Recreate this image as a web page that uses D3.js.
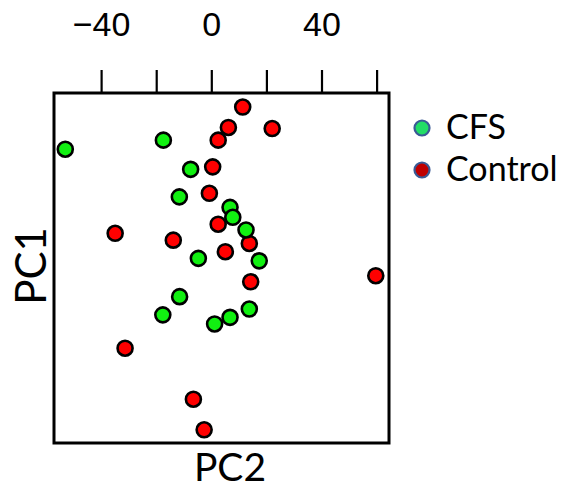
<!DOCTYPE html>
<html>
<head>
<meta charset="utf-8">
<script src="https://cdn.jsdelivr.net/npm/d3@7"></script>
<style>
  body { margin: 0; background: #fff; }
  text { font-family: Lato, "Open Sans", sans-serif; fill: #000; }
</style>
</head>
<body>
<div id="chart"></div>
<script>
// PCA scores (PC2 on x, PC1 on y)
var cfsPC2 = [-17.4, -53.0, -7.5, -11.6, 6.8, 7.8, 12.6, -4.7, 17.4, -11.5, -17.6, 13.8, 6.8, 1.2];
var cfsPC1 = [46.4, 43.1, 35.8, 25.8, 22.0, 18.4, 13.8, 3.5, 2.6, -10.4, -17.0, -14.9, -17.9, -20.3];
var controlPC2 = [11.4, 6.2, 22.1, 2.5, 0.5, -0.7, 2.5, -34.9, -13.8, 13.8, 5.1, 59.7, 14.3, -31.3, -6.5, -2.6];
var controlPC1 = [58.4, 51.0, 50.6, 46.4, 36.7, 27.1, 15.9, 12.6, 10.1, 8.9, 5.9, -2.8, -5.0, -29.1, -47.6, -58.7];
var xTicks = [-40, -20, 0, 20, 40, 60];
var xTickLabels = [-40, 0, 40];
var groups = ["CFS", "Control"];

var width = 565;
var height = 491;

var svg = d3.select("#chart")
  .append("svg")
    .attr("width", width)
    .attr("height", height)

// plot box (note: "top" is reserved on window, so use other names)
var boxL = 54, boxR = 389, boxT = 93, boxB = 443;

var x = d3.scaleLinear()
  .domain([-57.1, 64.5])
  .range([boxL, boxR]);

var y = d3.scaleLinear()
  .domain([-63.5, 63.5])
  .range([boxB, boxT]);

// top axis: ticks every 20, labels only every 40
var axis = d3.axisTop(x)
  .tickValues(xTicks)
  .tickSize(23)
  .tickPadding(34)
  .tickFormat(function(d) { return xTickLabels.indexOf(d) >= 0 ? d3.format("d")(d) : ""; });

var gx = svg.append("g")
  .attr("transform", "translate(0," + boxT + ")")
  .call(axis);
gx.select(".domain").remove();
gx.selectAll(".tick line").attr("stroke", "#000").attr("stroke-width", 2.2);
gx.selectAll(".tick text")
  .style("font-family", "'Liberation Sans', Arial, sans-serif")
  .style("font-size", "34px")
  .attr("fill", "#000");

// points: controls first, CFS on top
var controls = controlPC2.map(function(v, i) { return {pc2: v, pc1: controlPC1[i]}; });
var cfs = cfsPC2.map(function(v, i) { return {pc2: v, pc1: cfsPC1[i]}; });

svg.selectAll("circle.control")
  .data(controls).enter()
  .append("circle")
    .attr("class", "control")
    .attr("cx", function(d) { return x(d.pc2); })
    .attr("cy", function(d) { return y(d.pc1); })
    .attr("r", 7.5)
    .style("fill", "#ff0000")
    .style("stroke", "#000")
    .style("stroke-width", 2.6);

svg.selectAll("circle.cfs")
  .data(cfs).enter()
  .append("circle")
    .attr("class", "cfs")
    .attr("cx", function(d) { return x(d.pc2); })
    .attr("cy", function(d) { return y(d.pc1); })
    .attr("r", 7.5)
    .style("fill", "#11f011")
    .style("stroke", "#000")
    .style("stroke-width", 2.6);

// frame
svg.append("rect")
  .attr("x", boxL)
  .attr("y", boxT)
  .attr("width", boxR - boxL)
  .attr("height", boxB - boxT)
  .style("fill", "none")
  .style("stroke", "#000")
  .style("stroke-width", 3);

// axis titles
svg.append("text")
  .attr("x", 230)
  .attr("y", 481)
  .style("text-anchor", "middle")
  .style("font-size", "39px")
  .text("PC2");

svg.append("text")
  .attr("transform", "translate(46,266) rotate(-90)")
  .style("text-anchor", "middle")
  .style("font-size", "42px")
  .text("PC1");

// legend
var legendColors = ["#22dd66", "#c00000"];
var legend = svg.selectAll("g.legend")
  .data(groups).enter()
  .append("g")
    .attr("class", "legend")
    .attr("transform", function(d, i) { return "translate(422," + (128 + i * 42) + ")"; });

legend.append("circle")
  .attr("r", 7.5)
  .style("fill", function(d, i) { return legendColors[i]; })
  .style("stroke", "#3a5a95")
  .style("stroke-width", 2.2);

legend.append("text")
  .attr("x", 24)
  .attr("y", 11)
  .style("font-size", "34px")
  .text(function(d) { return d; });
</script>
</body>
</html>
